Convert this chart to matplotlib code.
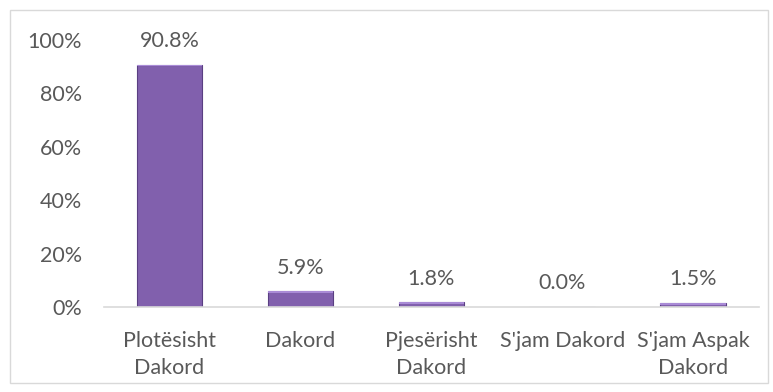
import matplotlib.pyplot as plt
from matplotlib.patches import Rectangle
from matplotlib.ticker import FuncFormatter

categories = ["Plotësisht\nDakord", "Dakord", "Pjesërisht\nDakord", "S'jam Dakord", "S'jam Aspak\nDakord"]
values = [0.908, 0.059, 0.018, 0.0, 0.015]
labels = ["90.8%", "5.9%", "1.8%", "0.0%", "1.5%"]

text_col = "#595959"
fs = 15.5
plt.rcParams['font.family'] = ['Lato', 'DejaVu Sans']

fig = plt.figure(figsize=(7.73, 3.92), dpi=100)
# outer chart border
fig.patches.append(Rectangle((10/773, 9/392), 758/773, 373/392, transform=fig.transFigure,
                             fill=False, edgecolor="#d9d9d9", linewidth=1))

ax = fig.add_axes([104/773, 85/392, 654.5/773, 267/392])
x = range(len(categories))
bars = ax.bar(x, values, width=0.5, color="#8160ad", edgecolor="#5a3f82", linewidth=0.8, zorder=2)
# light strip on top of each bar to hint the bevel
ax.bar(x, [min(v, 0.006) for v in values], bottom=[v - min(v, 0.006) for v in values],
       width=0.5, color="#a98bd6", linewidth=0, zorder=3)

for xi, v, lab in zip(x, values, labels):
    ax.annotate(lab, (xi, v), xytext=(0, 17), textcoords="offset points",
                ha="center", va="center", fontsize=fs, color=text_col, annotation_clip=False)

ax.set_xlim(-0.5, len(categories) - 0.5)
ax.set_ylim(0, 1.0)
ax.set_yticks([0, 0.2, 0.4, 0.6, 0.8, 1.0])
ax.yaxis.set_major_formatter(FuncFormatter(lambda v, p: f"{v*100:.0f}%"))
ax.set_xticks(list(x))
ax.set_xticklabels(categories, fontsize=fs, color=text_col, linespacing=1.45)
ax.tick_params(axis="y", length=0, pad=16, labelsize=fs, labelcolor=text_col)
ax.tick_params(axis="x", length=0, pad=17)

for s in ["top", "right", "left"]:
    ax.spines[s].set_visible(False)
ax.spines["bottom"].set_color("#d9d9d9")
ax.spines["bottom"].set_linewidth(1.2)
ax.spines["bottom"].set_zorder(4)

fig.savefig("out.png", dpi=100)
